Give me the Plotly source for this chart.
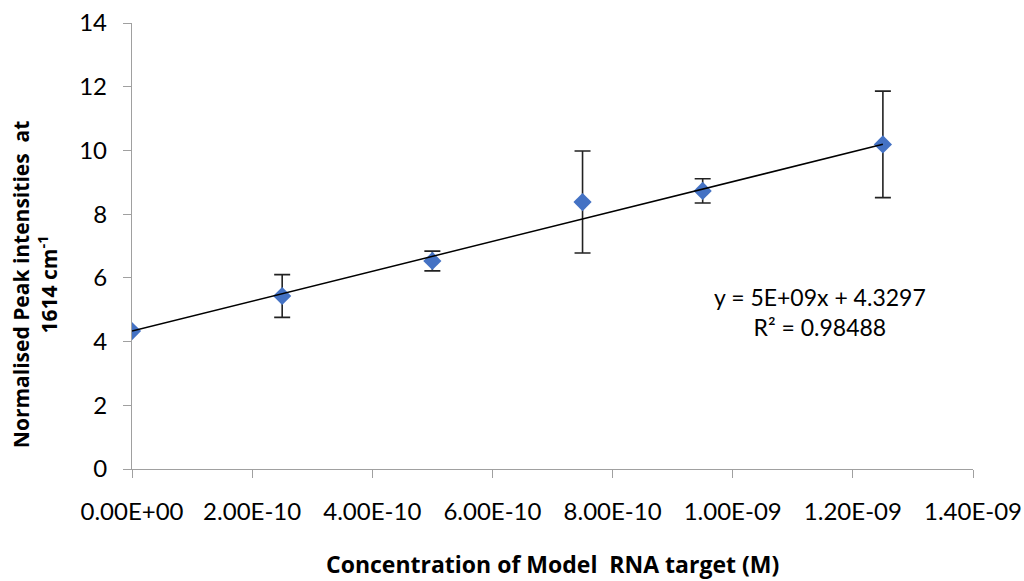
import plotly.graph_objects as go

# Measured data: concentration (M) vs normalised peak intensity at 1614 cm-1
concentration = [0.0, 2.5e-10, 5.0e-10, 7.5e-10, 9.5e-10, 1.25e-9]
intensity = [4.33, 5.43, 6.53, 8.38, 8.73, 10.19]
intensity_err = [0.0, 0.67, 0.31, 1.60, 0.38, 1.67]

# Linear trendline parameters
trend_slope = 4.69e9
trend_intercept = 4.3297
trend_x = [0.0, 1.25e-9]

x_tick_vals = [0.0, 2e-10, 4e-10, 6e-10, 8e-10, 1.0e-9, 1.2e-9, 1.4e-9]
x_tick_text = ["0.00E+00", "2.00E-10", "4.00E-10", "6.00E-10",
               "8.00E-10", "1.00E-09", "1.20E-09", "1.40E-09"]
y_tick_vals = [0, 2, 4, 6, 8, 10, 12, 14]

x_title = "<b>Concentration of Model  RNA target (M)</b>"
y_title = "<b>Normalised Peak intensities  at<br>1614 cm<sup>-1</sup></b>"
fit_label = "y = 5E+09x + 4.3297<br>R² = 0.98488"

FONT = "Lato"
TITLE_FONT = "Open Sans"
AXIS_GRAY = "#a0a0a0"

fig = go.Figure()

fig.add_trace(go.Scatter(
    x=concentration, y=intensity, mode="markers",
    marker=dict(symbol="diamond", size=14, color="#4472c4", line=dict(width=0)),
    error_y=dict(type="data", array=intensity_err, visible=True,
                 color="#222222", thickness=1.6, width=8),
    showlegend=False, hoverinfo="x+y",
))

fig.add_trace(go.Scatter(
    x=trend_x, y=[trend_intercept + trend_slope * v for v in trend_x],
    mode="lines", line=dict(color="black", width=1.5),
    showlegend=False, hoverinfo="skip",
))

# Trendline equation and R²
fig.add_annotation(
    x=1.146e-9, y=4.93, xref="x", yref="y",
    text=fit_label, showarrow=False, align="center",
    xanchor="center", yanchor="middle",
    font=dict(family=FONT, size=23, color="black"),
)

# Axis titles placed as annotations
fig.add_annotation(
    x=0.5, y=-0.212, xref="paper", yref="paper",
    text=x_title, showarrow=False, xanchor="center", yanchor="middle",
    font=dict(family=TITLE_FONT, size=23, color="black"),
)
fig.add_annotation(
    x=-0.115, y=0.415, xref="paper", yref="paper",
    text=y_title, showarrow=False, textangle=-90, align="center",
    xanchor="center", yanchor="middle",
    font=dict(family=TITLE_FONT, size=21, color="black"),
)

fig.update_xaxes(
    range=[0, 1.4e-9], tickmode="array", tickvals=x_tick_vals, ticktext=x_tick_text,
    showgrid=False, zeroline=False, showline=True, linecolor=AXIS_GRAY, linewidth=1.3,
    ticks="outside", ticklen=8, tickcolor=AXIS_GRAY, tickwidth=1.3,
    ticklabelstandoff=13, automargin=False,
    tickfont=dict(family=FONT, size=24, color="black"),
)

fig.update_yaxes(
    range=[0, 14], tickmode="array", tickvals=y_tick_vals,
    showgrid=False, zeroline=False, showline=True, linecolor=AXIS_GRAY, linewidth=1.3,
    ticks="outside", ticklen=8, tickcolor=AXIS_GRAY, tickwidth=1.3,
    ticklabelstandoff=11, automargin=False,
    tickfont=dict(family=FONT, size=24, color="black"),
)

fig.update_layout(
    width=1024, height=581,
    margin=dict(l=132, r=51, t=23, b=112),
    paper_bgcolor="white", plot_bgcolor="white",
)

fig.write_html("out.html")
